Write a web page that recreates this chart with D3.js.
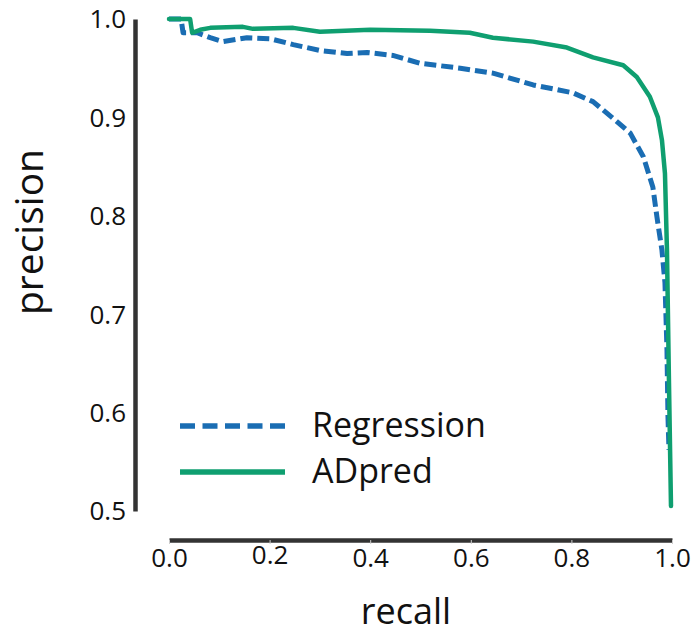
<!DOCTYPE html>
<html>
<head>
<meta charset="utf-8">
<script src="https://cdn.jsdelivr.net/npm/d3@7"></script>
<style>
  html, body { margin: 0; padding: 0; background: #fff; }
  svg { display: block; font-family: "Open Sans", Lato, sans-serif; }
</style>
</head>
<body>
<svg id="chart" width="696" height="634"></svg>
<script>
// ---- data ----
const xTicks = [0.0, 0.2, 0.4, 0.6, 0.8, 1.0];
const yTicks = [0.5, 0.6, 0.7, 0.8, 0.9, 1.0];
const seriesNames = ["Regression", "ADpred"];

const regressionRecall = [0, 0.024, 0.028, 0.056, 0.082, 0.107, 0.155, 0.201, 0.247, 0.300, 0.354, 0.394, 0.445, 0.499, 0.579, 0.644, 0.724, 0.803, 0.843, 0.883, 0.917, 0.943, 0.962, 0.970, 0.980, 0.986, 0.990, 0.992, 0.994];
const regressionPrecision = [1.0, 1.0, 0.986, 0.986, 0.981, 0.977, 0.981, 0.980, 0.974, 0.968, 0.965, 0.966, 0.963, 0.955, 0.950, 0.945, 0.933, 0.925, 0.916, 0.899, 0.884, 0.860, 0.829, 0.799, 0.765, 0.732, 0.664, 0.596, 0.562];

const adpredRecall = [0, 0.042, 0.046, 0.062, 0.082, 0.147, 0.167, 0.247, 0.300, 0.400, 0.519, 0.598, 0.644, 0.724, 0.791, 0.843, 0.903, 0.930, 0.956, 0.972, 0.980, 0.986, 0.990, 0.994, 0.998];
const adpredPrecision = [1.0, 1.0, 0.986, 0.989, 0.991, 0.992, 0.990, 0.991, 0.987, 0.989, 0.988, 0.986, 0.981, 0.977, 0.971, 0.961, 0.953, 0.941, 0.921, 0.900, 0.877, 0.843, 0.765, 0.630, 0.505];

const colors = { Regression: "#1a6db3", ADpred: "#0f9f70" };

// ---- layout ----
const svg = d3.select("#chart");
const x = d3.scaleLinear().domain([0, 1]).range([169, 672]);
const y = d3.scaleLinear().domain([0.5, 1.0]).range([511, 19]);

// y axis
const yAxis = svg.append("g")
  .attr("transform", "translate(135,0)")
  .call(d3.axisLeft(y).tickValues(yTicks).tickFormat(d3.format(".1f")).tickSize(0).tickPadding(9));
yAxis.select(".domain").attr("stroke", "#333").attr("stroke-width", 4.5);
yAxis.selectAll("text").attr("font-size", 26).attr("fill", "#111")
  .attr("font-family", "Open Sans, sans-serif").attr("dy", "0.34em");

// x axis
const xAxis = svg.append("g")
  .attr("transform", "translate(0,540)")
  .call(d3.axisBottom(x).tickValues(xTicks).tickFormat(d3.format(".1f")).tickSizeInner(4).tickSizeOuter(0).tickPadding(6));
xAxis.select(".domain").attr("stroke", "#333").attr("stroke-width", 4.5);
xAxis.selectAll(".tick line").attr("stroke", "#ccc").attr("stroke-width", 1);
xAxis.selectAll("text").attr("font-size", 26).attr("fill", "#111")
  .attr("font-family", "Open Sans, sans-serif")
  .attr("dy", d => d === 0.2 ? "0.52em" : "0.64em");

// axis titles
svg.append("text").attr("x", 406).attr("y", 624).attr("text-anchor", "middle")
  .attr("font-size", 36).attr("fill", "#111").text("recall");
svg.append("text").attr("transform", "translate(43,232) rotate(-90)").attr("text-anchor", "middle")
  .attr("font-size", 39).attr("fill", "#111").text("precision");

// curves
const line = d3.line().x(d => x(d[0])).y(d => y(d[1]));
const regData = d3.zip(regressionRecall, regressionPrecision);
const adData = d3.zip(adpredRecall, adpredPrecision);

svg.append("path").datum(regData).attr("d", line)
  .attr("fill", "none").attr("stroke", colors.Regression).attr("stroke-width", 5)
  .attr("stroke-dasharray", "12,5").attr("stroke-linejoin", "round");
svg.append("path").datum(adData).attr("d", line)
  .attr("fill", "none").attr("stroke", colors.ADpred).attr("stroke-width", 4.5)
  .attr("stroke-linejoin", "round").attr("stroke-linecap", "round");

// legend
const legend = svg.append("g");
seriesNames.forEach((name, i) => {
  const ly = 426 + i * 46;
  legend.append("line").attr("x1", 180).attr("x2", 285).attr("y1", ly).attr("y2", ly)
    .attr("stroke", colors[name]).attr("stroke-width", 5.5)
    .attr("stroke-dasharray", name === "Regression" ? "15,7.5" : null);
  legend.append("text").attr("x", 312).attr("y", ly + 11).attr("font-size", 34)
    .attr("fill", "#111").text(name);
});
</script>
</body>
</html>
